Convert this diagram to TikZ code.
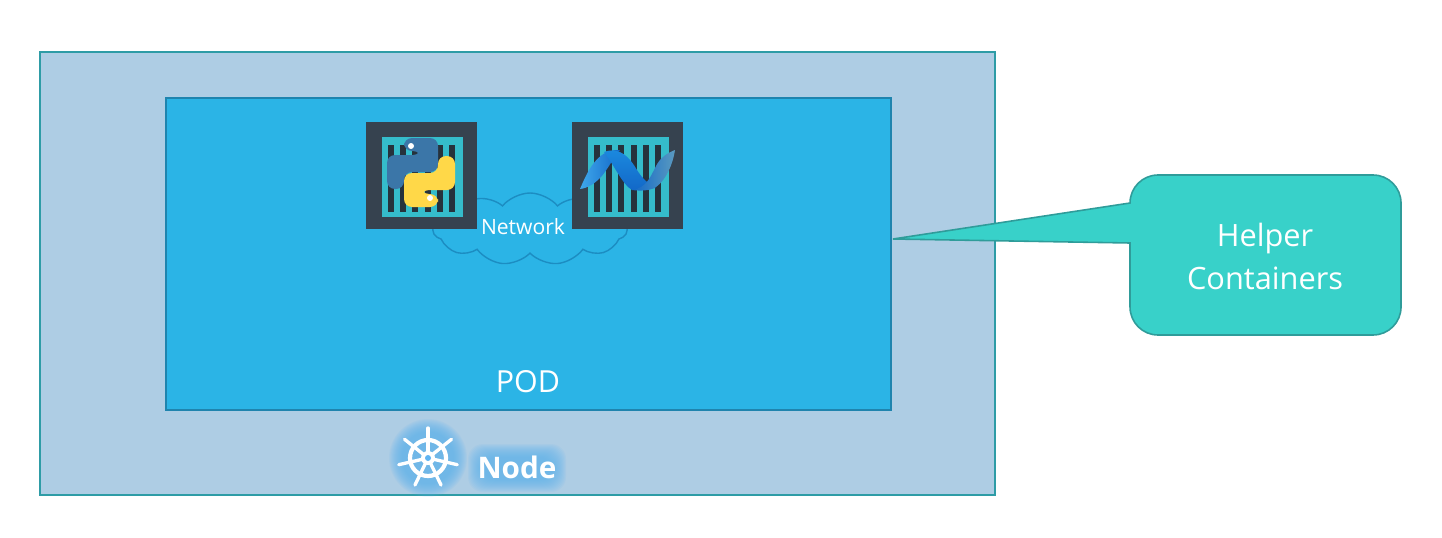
\documentclass[tikz,border=0pt]{standalone}
\usepackage{fontspec}
\setmainfont{Open Sans}
\usetikzlibrary{positioning,shapes.symbols}
\definecolor{nodefill}{HTML}{AECDE4}
\definecolor{nodeline}{HTML}{2E9CA6}
\definecolor{podfill}{HTML}{2BB4E6}
\definecolor{podline}{HTML}{1F84AE}
\definecolor{ctrdark}{HTML}{36424F}
\definecolor{ctrteal}{HTML}{35BCCB}
\definecolor{ctrbar}{HTML}{26323C}
\definecolor{cloudline}{HTML}{1C8DC2}
\definecolor{helperfill}{HTML}{38D1C9}
\definecolor{helperline}{HTML}{2F9C9A}
\definecolor{glowblue}{HTML}{5FB4F2}
\definecolor{pyblue}{HTML}{3B76A8}
\definecolor{pyyellow}{HTML}{FFD848}
\definecolor{ribbonlight}{HTML}{3FA8EC}
\definecolor{ribbonmid}{HTML}{1C8CE0}
\definecolor{ribbondark}{HTML}{1268C8}
\definecolor{ribbonfade}{HTML}{5A9AC0}
\tikzset{
  nodebox/.style={draw=nodeline,fill=nodefill,line width=1.3pt,minimum width=19.1cm,minimum height=8.86cm,inner sep=0pt},
  podbox/.style={draw=podline,fill=podfill,line width=1.2pt,minimum width=14.5cm,minimum height=6.24cm,inner sep=0pt},
  whitetext/.style={text=white,inner sep=0pt,align=center},
  ctrbox/.pic={
    \fill[ctrdark] (0,0) rectangle (111,107);
    \fill[ctrteal] (16,15) rectangle (97,95);
    \foreach \k in {0,...,5}
      \fill[ctrbar] (22+12.2*\k,23) rectangle +(6,67);
  },
  pysnake/.pic={
    \fill[rounded corners=0.16cm] (-17,-21.5) -- (-17,-34.5) -- (17,-34.5) -- (17,-0.5) -- (-17,-0.5) -- (-17,16.5) -- (-34,16.5) -- (-34,-17.5) -- (0,-17.5) -- (0,-21.5) -- cycle;
  },
}
\begin{document}
\begin{tikzpicture}[x=0.02cm,y=-0.02cm]
  \useasboundingbox (0,0) rectangle (1442,537);
  \node[nodebox] (nodearea) at (517.5,273.5) {};
  \node[podbox] (podarea) at (528.5,254) {};
  \node[whitetext,font=\fontsize{17.3}{20}\selectfont] (podlabel) at (528,382) {POD};

  % network cloud sits behind the two containers
  \node[cloud,cloud puffs=11,cloud puff arc=100,aspect=2.7,draw=cloudline,line width=0.8pt,minimum width=3.88cm,minimum height=1.44cm,inner sep=0pt] (netcloud) at (530,229) {};
  \pic (pyctr) at (366,122) {ctrbox};
  \pic (netctr) at (572,122) {ctrbox};
  \node[whitetext,font=\fontsize{12}{14}\selectfont] (netlabel) at (523,227) {Network};

  % python logo
  \pic[pyblue] (pyupper) at (421,172.5) {pysnake};
  \pic[pyyellow,rotate=180] (pylower) at (421,172.5) {pysnake};
  \fill[white] (411,146) circle (3);
  \fill[white] (430,198) circle (3);

  % .net ribbon
  \shade[left color=ribbonlight,right color=ribbondark] (580,189) .. controls (590,165) and (600,149) .. (620,150) .. controls (612,160) and (606,172) .. (600,178) .. controls (594,184) and (588,188) .. (580,189) -- cycle;
  \shade[top color=ribbonmid,bottom color=ribbondark] (604,152) .. controls (620,146) and (630,158) .. (637,170) .. controls (642,178) and (648,184) .. (656,188) -- (632,190) .. controls (622,184) and (616,168) .. (604,152) -- cycle;
  \shade[left color=ribbondark,right color=ribbonfade] (632,190) .. controls (646,188) and (650,178) .. (656,166) .. controls (660,158) and (667,153) .. (675,150) .. controls (673,164) and (666,180) .. (656,187) .. controls (650,191) and (640,191) .. (632,190) -- cycle;

  % callout
  \coordinate (helpertip) at (893,239);
  \draw[draw=helperline,fill=helperfill,line width=0.9pt] (helpertip) -- (1130,203) [rounded corners=0.56cm] -- (1130,175) -- (1401,175) -- (1401,335) -- (1130,335) [sharp corners] -- (1130,243) -- cycle;
  \node[whitetext,font=\fontsize{17.5}{24.5}\selectfont] (helperlabel) at (1265,256) {Helper\\Containers};

  % glow behind wheel and label
  \foreach \g in {0,1,...,13}{
    \fill[glowblue,opacity=0.09] (428,458) circle (39-\g);
    \fill[glowblue,opacity=0.09,rounded corners=0.3cm] (468+\g,444+\g) rectangle (566-\g,492-\g);
  }
  % wheel
  \draw[white,line width=2.4pt] (428,458) circle (18);
  \foreach \a in {0,1,...,6}{
    \draw[white,line width=1.9pt,line cap=round] (428,458) -- ++(-90+\a*360/7:30);
  }
  \fill[white] (428,458) circle (7);
  \fill[glowblue] (428,458) circle (3);
  \node[whitetext,font=\bfseries\fontsize{16.9}{20}\selectfont] (nodelabel) at (517,467) {Node};
\end{tikzpicture}
\end{document}
